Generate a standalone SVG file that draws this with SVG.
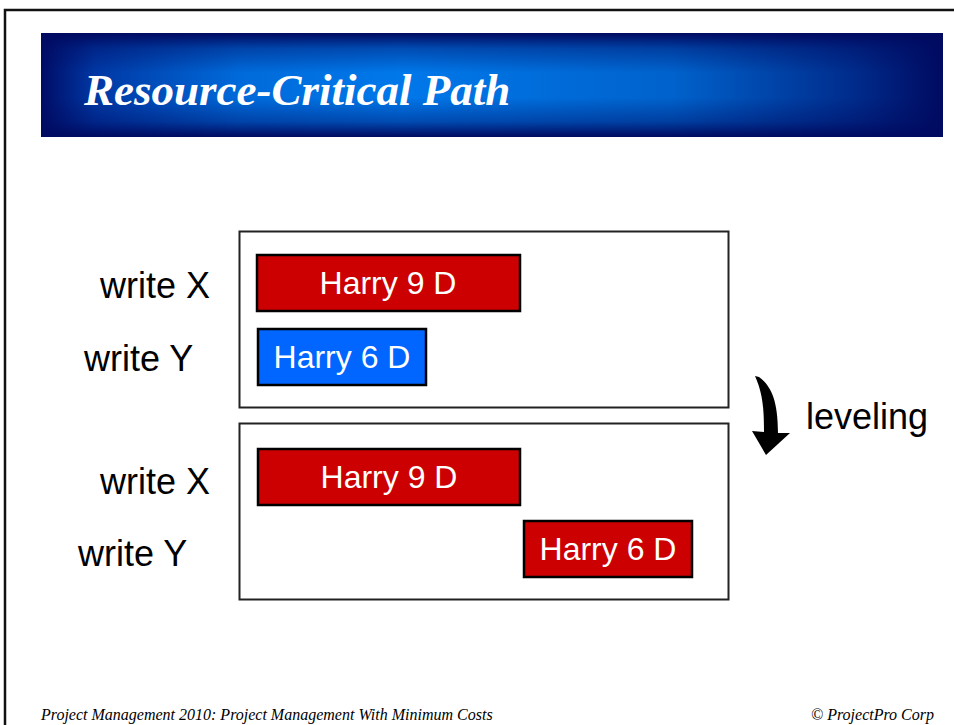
<svg xmlns="http://www.w3.org/2000/svg" width="954" height="725" viewBox="0 0 954 725">
<defs>
<linearGradient id="hg" x1="0" y1="0" x2="1" y2="0">
<stop offset="0" stop-color="#000c66"/>
<stop offset="0.06" stop-color="#0038a4"/>
<stop offset="0.22" stop-color="#006ada"/>
<stop offset="0.4" stop-color="#0078ea"/>
<stop offset="0.7" stop-color="#0062cc"/>
<stop offset="0.9" stop-color="#002c8c"/>
<stop offset="1" stop-color="#000a60"/>
</linearGradient>
<linearGradient id="vg" x1="0" y1="0" x2="0" y2="1">
<stop offset="0" stop-color="#000a60" stop-opacity="1"/>
<stop offset="0.15" stop-color="#000a60" stop-opacity="0.4"/>
<stop offset="0.38" stop-color="#000a60" stop-opacity="0"/>
<stop offset="0.62" stop-color="#000a60" stop-opacity="0"/>
<stop offset="0.85" stop-color="#000a60" stop-opacity="0.4"/>
<stop offset="1" stop-color="#000a60" stop-opacity="1"/>
</linearGradient>
<style>
.box{fill:#fff;stroke:#222;stroke-width:2}
.bar{stroke:#000;stroke-width:2.5}
.red{fill:#cc0000}
.blue{fill:#0066ff}
.bt{font-family:"Liberation Sans",Arial,sans-serif;font-size:32px;fill:#fff;text-anchor:middle}
.lbl{font-family:"Liberation Sans",Arial,sans-serif;font-size:36px;fill:#000}
.foot{font-family:"Liberation Serif","Times New Roman",serif;font-style:italic;font-size:16px;fill:#000}
</style>
</defs>
<rect x="0" y="0" width="954" height="725" fill="#fff"/>
<path d="M5,725 V10 H954" fill="none" stroke="#111" stroke-width="2.5"/>
<g id="header">
<rect x="41" y="33" width="902" height="104" fill="url(#hg)"/>
<rect x="41" y="33" width="902" height="104" fill="url(#vg)"/>
<text x="84" y="105" font-family="'Liberation Serif','Times New Roman',serif" font-weight="bold" font-style="italic" font-size="45" fill="#fff">Resource-Critical Path</text>
</g>
<g id="before">
<rect class="box" x="239.5" y="231.5" width="489" height="176"/>
<g id="before-x">
<rect class="bar red" x="257" y="255" width="263" height="56"/>
<text class="bt" x="388" y="294">Harry 9 D</text>
</g>
<g id="before-y">
<rect class="bar blue" x="258" y="329" width="168" height="56"/>
<text class="bt" x="342" y="368">Harry 6 D</text>
</g>
</g>
<g id="after">
<rect class="box" x="239.5" y="423.5" width="489" height="176"/>
<g id="after-x">
<rect class="bar red" x="258" y="449" width="262" height="56"/>
<text class="bt" x="389" y="488">Harry 9 D</text>
</g>
<g id="after-y">
<rect class="bar red" x="524" y="521" width="168" height="56"/>
<text class="bt" x="608" y="560">Harry 6 D</text>
</g>
</g>
<g id="labels">
<text class="lbl" x="100" y="298">write X</text>
<text class="lbl" x="84" y="371">write Y</text>
<text class="lbl" x="100" y="494">write X</text>
<text class="lbl" x="78" y="566">write Y</text>
</g>
<g id="connectors">
<path d="M755,376 L759,377 C770,385 778,398 778,433 L790,433 L766,455 L752,431 L764,432 C764,405 762,392 755,376 Z" fill="#000"/>
</g>
<g id="leveling">
<text class="lbl" x="806" y="429">leveling</text>
</g>
<g id="footer">
<text class="foot" x="41" y="720">Project Management 2010: Project Management With Minimum Costs</text>
<text class="foot" x="934" y="720" text-anchor="end">© ProjectPro Corp</text>
</g>
</svg>
